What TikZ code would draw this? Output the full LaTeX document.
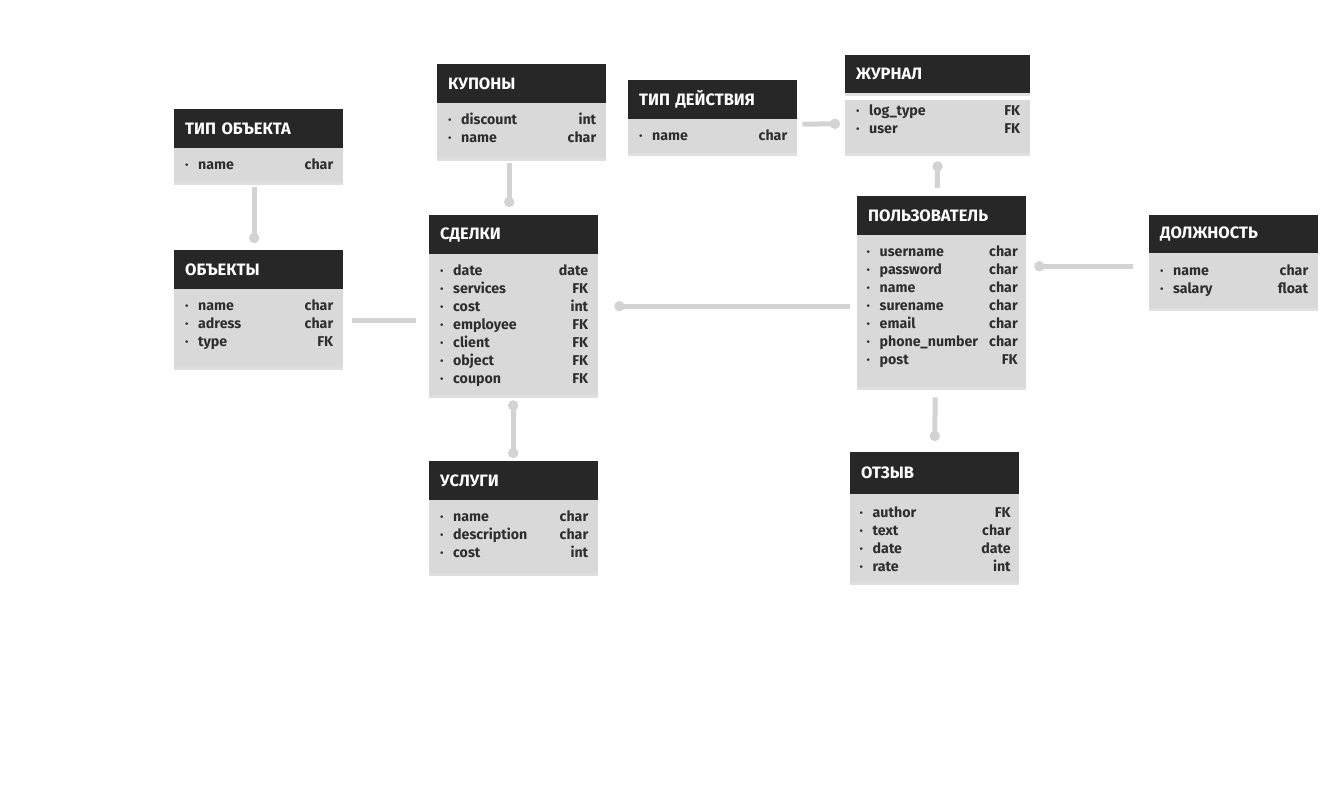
\documentclass[tikz,border=0pt]{standalone}
\usepackage{fontspec}
\setmainfont{Fira Sans}
\usepackage{xcolor}
\usetikzlibrary{arrows.meta}
\usetikzlibrary{shadows}

\definecolor{headcol}{HTML}{272727}
\definecolor{bodycol}{HTML}{D9D9D9}
\definecolor{textcol}{HTML}{2E2E2E}
\definecolor{linkcol}{HTML}{D3D3D3}

\newcommand{\rowdot}{\makebox[14pt][l]{\hspace{1pt}·}}

\begin{document}
\begin{tikzpicture}[x=1pt,y=-1pt,
        head/.style={fill=headcol, text=white, anchor=north west, minimum height=39pt, inner xsep=11pt, inner ysep=0pt, text width=147pt, align=left, font=\bfseries\fontsize{16.5}{18}\selectfont, drop shadow={shadow xshift=0pt, shadow yshift=-2.5pt, opacity=.25}},
        fields/.style={fill=bodycol, text=textcol, anchor=north west, inner xsep=10pt, inner ysep=0pt, text width=149pt, align=left, text height=21.5pt, font=\bfseries\fontsize{14.2}{18}\selectfont, drop shadow={shadow xshift=0pt, shadow yshift=-2.5pt, opacity=.25}},
        link/.style={draw=linkcol, line width=5pt},
        ball/.style={-{Circle[length=10pt,width=10pt]}},
        balls/.style={{Circle[length=10pt,width=10pt]}-{Circle[length=10pt,width=10pt]}}]
        \useasboundingbox (0,0) rectangle (1343,789);
        \fill[white] (0,0) rectangle (1343,789);

        % tables
        \node[head] (tipobj) at (174,109) {ТИП ОБЪЕКТА};
        \node[fields, text depth=12.5pt] (tipobjf) at (174,148) {\rowdot name\hfill char};

        \node[head] (objs) at (174,250) {ОБЪЕКТЫ};
        \node[fields, text depth=56.5pt] (objsf) at (174,289) {\rowdot name\hfill char\\ \rowdot adress\hfill char\\ \rowdot type\hfill FK};

        \node[head] (kup) at (437,64) {КУПОНЫ};
        \node[fields, text depth=33.5pt] (kupf) at (437,103) {\rowdot discount\hfill int\\ \rowdot name\hfill char};

        \node[head] (tipd) at (628,80) {ТИП ДЕЙСТВИЯ};
        \node[fields, text depth=12.5pt] (tipdf) at (628,119) {\rowdot name\hfill char};

        \node[head, minimum height=38pt, text width=163pt] (zhur) at (845,55) {ЖУРНАЛ};
        \node[fields, text width=165pt, text height=15.5pt, text depth=37.5pt] (zhurf) at (845,100) {\rowdot log\_type\hfill FK\\ \rowdot user\hfill FK};

        \node[head] (deals) at (429,215) {СДЕЛКИ};
        \node[fields, text depth=119.5pt] (dealsf) at (429,254) {\rowdot date\hfill date\\ \rowdot services\hfill FK\\ \rowdot cost\hfill int\\ \rowdot employee\hfill FK\\ \rowdot client\hfill FK\\ \rowdot object\hfill FK\\ \rowdot coupon\hfill FK};

        \node[head] (usl) at (429,461) {УСЛУГИ};
        \node[fields, text depth=51.5pt] (uslf) at (429,500) {\rowdot name\hfill char\\ \rowdot description\hfill char\\ \rowdot cost\hfill int};

        \node[head] (pols) at (857,196) {ПОЛЬЗОВАТЕЛЬ};
        \node[fields, inner xsep=8.5pt, text width=152pt, text depth=130.5pt] (polsf) at (857,235) {\rowdot username\hfill char\\ \rowdot password\hfill char\\ \rowdot name\hfill char\\ \rowdot surename\hfill char\\ \rowdot email\hfill char\\ \rowdot phone\_number\hfill char\\ \rowdot post\hfill FK};

        \node[head, minimum height=42pt] (otz) at (850,452) {ОТЗЫВ};
        \node[fields, inner xsep=8.5pt, text width=152pt, text height=23.5pt, text depth=64.5pt] (otzf) at (850,494) {\rowdot author\hfill FK\\ \rowdot text\hfill char\\ \rowdot date\hfill date\\ \rowdot rate\hfill int};

        \node[head, minimum height=38pt] (dolzh) at (1149,215) {ДОЛЖНОСТЬ};
        \node[fields, text height=22.5pt, text depth=32.5pt] (dolzhf) at (1149,253) {\rowdot name\hfill char\\ \rowdot salary\hfill float};

        % links
        \draw[link, ball] ([xshift=-4.5pt,yshift=-5pt]tipobjf.south) -- ([xshift=-4.5pt,yshift=7pt]objs.north);% type -> objects
        \draw[link] ([xshift=9pt,yshift=8pt]objsf.east) -- ([xshift=-13pt,yshift=4.5pt]dealsf.west);% objects -- deals
        \draw[link, ball] ([xshift=-12.5pt,yshift=-5pt]kupf.south) -- ([xshift=-4.5pt,yshift=8pt]deals.north);% coupons -> deals
        \draw[link, ball] ([xshift=5pt,yshift=12pt]tipdf.east) -- ([xshift=-5pt,yshift=3pt]zhurf.west);% action type -> log
        \draw[link, ball] ([xshift=-4.5pt,yshift=8pt]pols.north) -- ([yshift=-8pt]zhurf.south);% user -> log
        \draw[link, ball] ([xshift=-7pt,yshift=5pt]polsf.west) -- ([xshift=16pt,yshift=18.5pt]dealsf.east);% user -> deals
        \draw[link, ball] ([xshift=-16pt,yshift=14.5pt]dolzhf.west) -- ([xshift=8pt,yshift=45pt]polsf.east);% post -> user
        \draw[link, balls] ([xshift=-0.5pt,yshift=-5pt]dealsf.south) -- ([xshift=-0.5pt,yshift=3pt]usl.north);% deals -- services
        \draw[link, ball] ([xshift=-6.5pt,yshift=-10pt]polsf.south) -- ([yshift=11pt]otz.north);% user -> review
\end{tikzpicture}
\end{document}
